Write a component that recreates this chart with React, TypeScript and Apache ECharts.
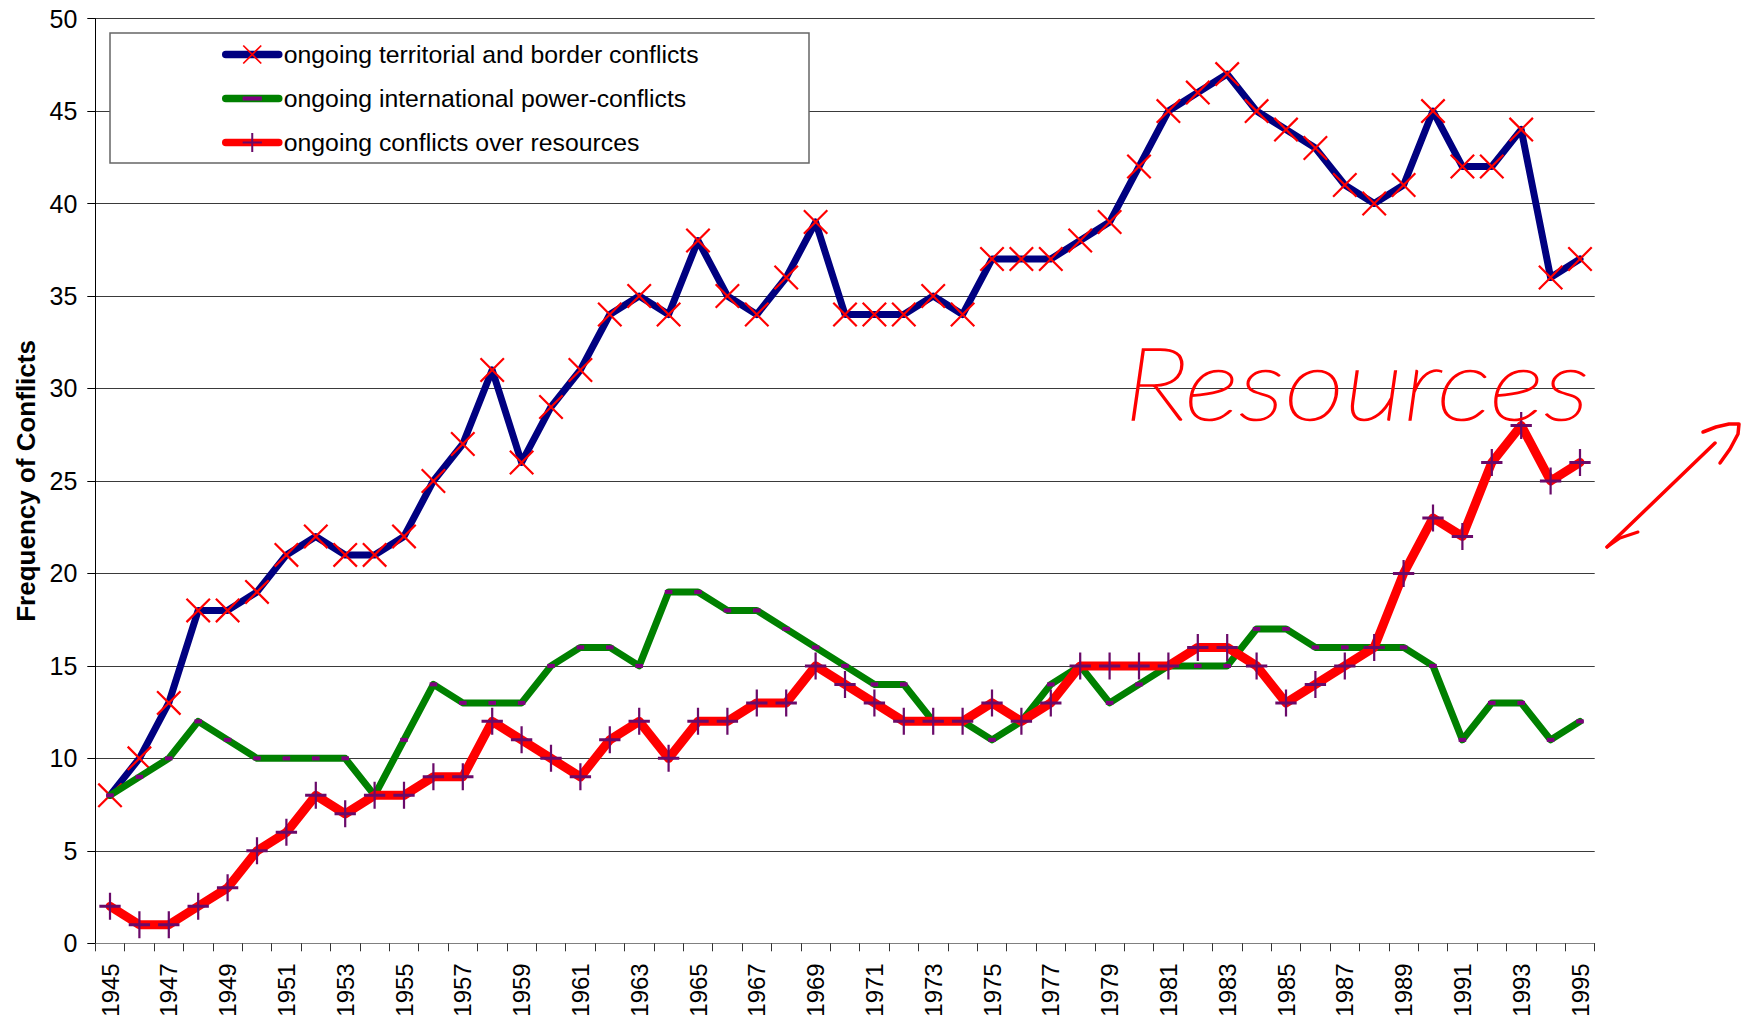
import React, { useEffect, useRef } from 'react';
import * as echarts from 'echarts';

const years = [
  '1945','1946','1947','1948','1949','1950','1951','1952','1953','1954',
  '1955','1956','1957','1958','1959','1960','1961','1962','1963','1964',
  '1965','1966','1967','1968','1969','1970','1971','1972','1973','1974',
  '1975','1976','1977','1978','1979','1980','1981','1982','1983','1984',
  '1985','1986','1987','1988','1989','1990','1991','1992','1993','1994','1995'
];

const territorial = [
  8, 10, 13, 18, 18, 19, 21, 22, 21, 21,
  22, 25, 27, 31, 26, 29, 31, 34, 35, 34,
  38, 35, 34, 36, 39, 34, 34, 34, 35, 34,
  37, 37, 37, 38, 39, 42, 45, 46, 47, 45,
  44, 43, 41, 40, 41, 45, 42, 42, 44, 36, 37
];

const powerConflicts = [
  8, 9, 10, 12, 11, 10, 10, 10, 10, 8,
  11, 14, 13, 13, 13, 15, 16, 16, 15, 19,
  19, 18, 18, 17, 16, 15, 14, 14, 12, 12,
  11, 12, 14, 15, 13, 14, 15, 15, 15, 17,
  17, 16, 16, 16, 16, 15, 11, 13, 13, 11, 12
];

const resources = [
  2, 1, 1, 2, 3, 5, 6, 8, 7, 8,
  8, 9, 9, 12, 11, 10, 9, 11, 12, 10,
  12, 12, 13, 13, 15, 14, 13, 12, 12, 12,
  13, 12, 13, 15, 15, 15, 15, 16, 16, 15,
  13, 14, 15, 16, 20, 23, 22, 26, 28, 25, 26
];

const seriesNames = [
  'ongoing territorial and border conflicts',
  'ongoing international power-conflicts',
  'ongoing conflicts over resources'
];

const yTicks = { min: 0, max: 50, interval: 5 };

const X_SYMBOL = 'path://M0,1.5L1.5,0L24,22.5L22.5,24ZM22.5,0L24,1.5L1.5,24L0,22.5Z';
const PLUS_SYMBOL = 'path://M0,12L24,12L24,15L0,15ZM10.75,0L13.25,0L13.25,27L10.75,27Z';
const DASH_SYMBOL = 'path://M0,0M0,7.5L12,7.5L12,11.5L0,11.5ZM12,19';

const FONT = "'Liberation Sans', Arial, Helvetica, sans-serif";

export default function App() {
  const ref = useRef<HTMLDivElement>(null);

  useEffect(() => {
    if (!ref.current) return;
    const chart = echarts.init(ref.current, null, { renderer: 'svg' });
    chart.setOption({
      animation: false,
      backgroundColor: '#ffffff',
      textStyle: { fontFamily: FONT, color: '#000' },
      grid: { left: 95.3, right: 147.3, top: 18.6, bottom: 83.7, containLabel: false },
      legend: {
        orient: 'vertical',
        left: 222,
        top: 42,
        padding: 0,
        itemWidth: 53,
        itemHeight: 24,
        itemGap: 19,
        lineStyle: { width: 7.5, cap: 'round' },
        textStyle: { fontSize: 24.8, color: '#000', fontFamily: FONT },
        data: seriesNames,
        z: 5
      },
      xAxis: {
        type: 'category',
        data: years,
        boundaryGap: true,
        axisLine: { show: true, lineStyle: { color: '#808080', width: 1 } },
        axisTick: { show: true, interval: 0, length: 8, lineStyle: { color: '#333', width: 1 } },
        axisLabel: { interval: 1, rotate: 90, fontSize: 24, color: '#000', margin: 20, fontFamily: FONT },
        splitLine: { show: false }
      },
      yAxis: {
        type: 'value',
        min: yTicks.min,
        max: yTicks.max,
        interval: yTicks.interval,
        name: 'Frequency of Conflicts',
        nameLocation: 'middle',
        nameGap: 56,
        nameTextStyle: { fontSize: 26, fontWeight: 'bold', color: '#000', fontFamily: FONT },
        axisLine: { show: true, lineStyle: { color: '#000', width: 1 } },
        axisTick: { show: true, length: 8, lineStyle: { color: '#000', width: 1 } },
        axisLabel: { fontSize: 25, color: '#000', margin: 18, fontFamily: FONT },
        splitLine: { show: true, lineStyle: { color: '#3a3a3a', width: 1 } }
      },
      series: [
        {
          name: seriesNames[0],
          type: 'line',
          data: territorial,
          symbol: X_SYMBOL,
          symbolSize: 25,
          symbolKeepAspect: true,
          showAllSymbol: true,
          lineStyle: { color: '#000080', width: 7, join: 'round', cap: 'round' },
          itemStyle: { color: '#ff0000' },
          z: 2
        },
        {
          name: seriesNames[1],
          type: 'line',
          data: powerConflicts,
          symbol: DASH_SYMBOL,
          symbolSize: [12, 19],
          symbolKeepAspect: true,
          showAllSymbol: true,
          lineStyle: { color: '#008000', width: 7, join: 'round', cap: 'round' },
          itemStyle: { color: '#800080' },
          z: 3
        },
        {
          name: seriesNames[2],
          type: 'line',
          data: resources,
          symbol: PLUS_SYMBOL,
          symbolSize: [24, 27],
          symbolKeepAspect: true,
          showAllSymbol: true,
          lineStyle: { color: '#ff0000', width: 9, join: 'round', cap: 'round' },
          itemStyle: { color: '#6a0a6a' },
          z: 4
        }
      ],
      graphic: [
        {
          type: 'rect',
          z: 4,
          shape: { x: 110, y: 33, width: 699, height: 130 },
          style: { fill: '#ffffff', stroke: '#666666', lineWidth: 1.5 }
        },
        {
          type: 'text',
          z: 10,
          x: 1124,
          y: 330,
          scaleX: 1.2,
          scaleY: 1.03,
          style: {
            text: 'Resources',
            fill: '#ff0000',
            stroke: '#ff0000',
            lineWidth: 1.6,
            fontSize: 98,
            fontWeight: 100,
            fontStyle: 'italic',
            fontFamily: "'Lato Hairline', Lato, Roboto, 'DejaVu Sans', sans-serif"
          }
        },
        {
          type: 'polyline',
          z: 10,
          shape: { points: [[1607, 547], [1715, 443]] },
          style: { stroke: '#ff0000', lineWidth: 3.5, fill: null, lineCap: 'round' }
        },
        {
          type: 'polyline',
          z: 10,
          shape: { points: [[1703, 432], [1716, 427], [1729, 424], [1739, 424], [1738, 434], [1730, 449], [1720, 463]] },
          style: { stroke: '#ff0000', lineWidth: 3.5, fill: null, lineCap: 'round', lineJoin: 'round' }
        },
        {
          type: 'polyline',
          z: 10,
          shape: { points: [[1607, 547], [1620, 538], [1638, 532]] },
          style: { stroke: '#ff0000', lineWidth: 3, fill: null, lineCap: 'round', lineJoin: 'round' }
        }
      ]
    });
    return () => chart.dispose();
  }, []);

  return (
    <div
      ref={ref}
      style={{ position: 'absolute', left: 0, top: 0, width: 1742, height: 1027 }}
    />
  );
}
